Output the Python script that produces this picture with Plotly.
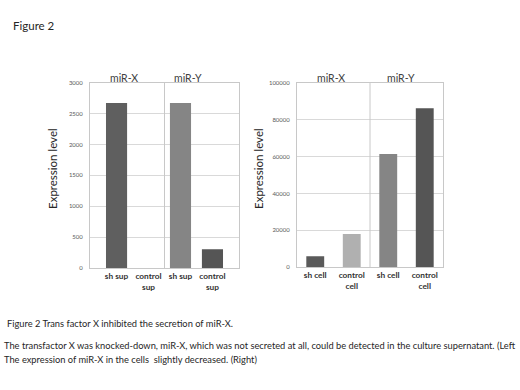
import plotly.graph_objects as go

# Left panel: supernatant
sup_labels = ["sh sup", "control<br>sup", "sh sup", "control<br>sup"]
sup_values = [2670, 0, 2670, 305]
sup_colors = ["#5f5f5f", "#aaaaaa", "#858585", "#555555"]
sup_ticks = [0, 500, 1000, 1500, 2000, 2500, 3000]

# Right panel: cells
cell_labels = ["sh cell", "control<br>cell", "sh cell", "control<br>cell"]
cell_values = [6000, 18000, 61500, 86300]
cell_colors = ["#5a5a5a", "#b0b0b0", "#858585", "#555555"]
cell_ticks = [0, 20000, 40000, 60000, 80000, 100000]

groups = ["miR-X", "miR-Y"]

FONT = "Lato"
fig = go.Figure()

fig.add_trace(go.Bar(x=list(range(len(sup_labels))), y=sup_values,
                     marker=dict(color=sup_colors, line=dict(width=0)),
                     width=0.66, xaxis="x", yaxis="y", showlegend=False,
                     hoverinfo="skip"))
fig.add_trace(go.Bar(x=list(range(len(cell_labels))), y=cell_values,
                     marker=dict(color=cell_colors, line=dict(width=0)),
                     width=0.49, xaxis="x2", yaxis="y2", showlegend=False,
                     hoverinfo="skip"))

axis_common = dict(showline=True, linecolor="#c8c8c8", linewidth=1, mirror=True,
                   zeroline=False)
xtickfont = dict(size=8.3, family=FONT, color="#333333")
ytickfont = dict(size=6, color="#595959")
fig.update_layout(
    width=520, height=390,
    margin=dict(l=0, r=0, t=0, b=0),
    paper_bgcolor="white", plot_bgcolor="white",
    font=dict(family=FONT, color="#404040"),
    xaxis=dict(domain=[90/520, 239/520], range=[-0.83, 3.83],
               tickvals=list(range(len(sup_labels))),
               ticktext=["<b>" + s + "</b>" for s in sup_labels],
               tickfont=xtickfont, showgrid=False, anchor="y", **axis_common),
    yaxis=dict(domain=[(390-269)/390, (390-80)/390], range=[0, 3000],
               tickvals=sup_ticks, tickformat="d", tickfont=ytickfont,
               showgrid=True, gridcolor="#d9d9d9", anchor="x",
               ticklabelstandoff=5, **axis_common),
    xaxis2=dict(domain=[297/520, 443/520], range=[-0.5, 3.5],
                tickvals=list(range(len(cell_labels))),
                ticktext=["<b>" + s + "</b>" for s in cell_labels],
                tickfont=xtickfont, showgrid=False, anchor="y2", **axis_common),
    yaxis2=dict(domain=[(390-268)/390, (390-80.5)/390], range=[0, 100000],
                tickvals=cell_ticks, tickformat="d", tickfont=ytickfont,
                showgrid=True, gridcolor="#d9d9d9", anchor="x2",
                ticklabelstandoff=5, **axis_common),
)

# vertical dividers between miR-X and miR-Y groups
fig.add_shape(type="line", xref="x", yref="y", x0=1.5, x1=1.5, y0=0, y1=3000,
              line=dict(color="#c8c8c8", width=1))
fig.add_shape(type="line", xref="x2", yref="y2", x0=1.5, x1=1.5, y0=0, y1=100000,
              line=dict(color="#c8c8c8", width=1))

# group headers
for xr, pos in [("x", [0.22, 2.25]), ("x2", [0.43, 2.36])]:
    for g, p in zip(groups, pos):
        fig.add_annotation(text=g, xref=xr, yref="paper", x=p, y=(390-75.5)/390,
                           showarrow=False, font=dict(size=10.5, color="#404040"),
                           xanchor="center", yanchor="middle")

# y-axis titles
for xpix in [53, 259]:
    fig.add_annotation(text="Expression level", xref="paper", yref="paper",
                       x=xpix/520, y=(390-168)/390, textangle=-90, showarrow=False,
                       font=dict(size=11.5, color="#262626"),
                       xanchor="center", yanchor="middle")

# figure title and caption
fig.add_annotation(text="Figure 2", xref="paper", yref="paper", x=11/520, y=(390-22)/390,
                   showarrow=False, font=dict(size=11.5, color="#262626"),
                   xanchor="left", yanchor="middle")
captions = [
    (5, 325, "Figure 2 Trans factor X inhibited the secretion of miR-X."),
    (2, 348, "The transfactor X was knocked-down, miR-X, which was not secreted at all, could be detected in the culture supernatant. (Left"),
    (2, 362, "The expression of miR-X in the cells  slightly decreased. (Right)"),
]
for xp, yp, t in captions:
    fig.add_annotation(text=t, xref="paper", yref="paper", x=xp/520, y=(390-yp)/390,
                       showarrow=False, font=dict(size=9.3, color="#262626"),
                       xanchor="left", yanchor="middle")

fig.write_html("out.html", config={"displayModeBar": False},
               post_script="document.body.style.margin='0';")
